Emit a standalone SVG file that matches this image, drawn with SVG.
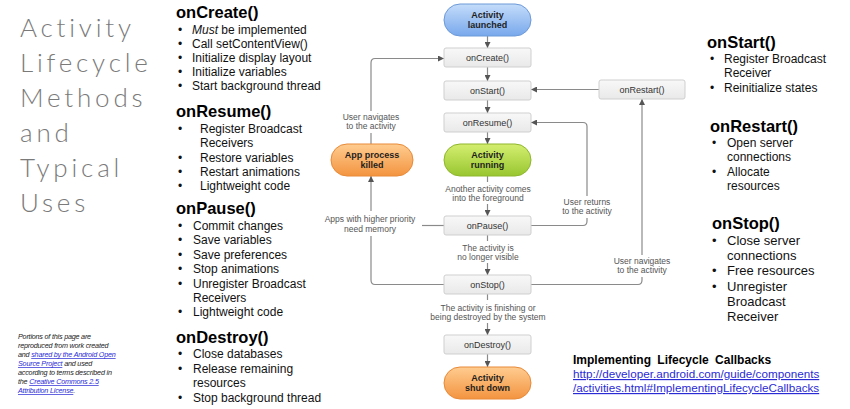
<svg xmlns="http://www.w3.org/2000/svg" width="850" height="409" viewBox="0 0 850 409">
<style>
.title{font-family:Lato,"Open Sans",sans-serif;font-weight:300;font-size:26px;letter-spacing:3.8px;fill:#7a7a7a}
.h{font-family:"Liberation Sans",Arial,sans-serif;font-weight:bold;font-size:16.5px;fill:#000}
.b{font-family:"Liberation Sans",Arial,sans-serif;font-size:12px;fill:#111}
.b13{font-family:"Liberation Sans",Arial,sans-serif;font-size:13px;fill:#111}
.box{fill:url(#gBox);stroke:#cfcfcf;stroke-width:1}
.bt{font-family:"Liberation Sans",Arial,sans-serif;font-size:9px;fill:#333;text-anchor:middle}
.pt{font-family:"Liberation Sans",Arial,sans-serif;font-size:9px;font-weight:bold;fill:#1e1e1e;text-anchor:middle}
.lbl{font-family:"Liberation Sans",Arial,sans-serif;font-size:8.5px;fill:#555;text-anchor:middle}
.ln{fill:none;stroke:#8a8a8a;stroke-width:1.2}
.ar{fill:none;stroke:#8a8a8a;stroke-width:1.2;marker-end:url(#arr)}
.note{font-family:"Liberation Sans",Arial,sans-serif;font-size:7.2px;font-style:italic;fill:#222;letter-spacing:-0.2px}
.lk{fill:#2b2bd6;text-decoration:underline}
.url{font-family:"Liberation Sans",Arial,sans-serif;font-size:11.7px;fill:#2b2bd6;text-decoration:underline}
</style>
<defs>
<linearGradient id="gBox" x1="0" y1="0" x2="0" y2="1"><stop offset="0" stop-color="#f8f8f8"/><stop offset="1" stop-color="#e9e9e9"/></linearGradient>
<linearGradient id="gBlue" x1="0" y1="0" x2="0" y2="1"><stop offset="0" stop-color="#c4dcfa"/><stop offset="1" stop-color="#78a8ec"/></linearGradient>
<linearGradient id="gGreen" x1="0" y1="0" x2="0" y2="1"><stop offset="0" stop-color="#d4ee70"/><stop offset="1" stop-color="#98c630"/></linearGradient>
<linearGradient id="gOrange" x1="0" y1="0" x2="0" y2="1"><stop offset="0" stop-color="#ffcc90"/><stop offset="1" stop-color="#f39440"/></linearGradient>
<marker id="arr" viewBox="0 0 8 8" refX="8" refY="4" markerWidth="6" markerHeight="6" markerUnits="userSpaceOnUse" orient="auto"><path d="M0,0 L8,4 L0,8 Z" fill="#555"/></marker>
</defs>

<g id="title">
<text class="title" x="20" y="37">Activity</text>
<text class="title" x="20" y="72">Lifecycle</text>
<text class="title" x="20" y="107">Methods</text>
<text class="title" x="20" y="142">and</text>
<text class="title" x="20" y="177">Typical</text>
<text class="title" x="20" y="212">Uses</text>
</g>

<g id="onCreate-uses">
<text class="h" x="176" y="18">onCreate()</text>
<text class="b" x="178" y="34">•</text><text class="b" x="192" y="34"><tspan font-style="italic">Must</tspan> be implemented</text>
<text class="b" x="178" y="48">•</text><text class="b" x="192" y="48">Call setContentView()</text>
<text class="b" x="178" y="62">•</text><text class="b" x="192" y="62">Initialize display layout</text>
<text class="b" x="178" y="76">•</text><text class="b" x="192" y="76">Initialize variables</text>
<text class="b" x="178" y="90">•</text><text class="b" x="192" y="90">Start background thread</text>
</g>
<g id="onResume-uses">
<text class="h" x="176" y="117">onResume()</text>
<text class="b" x="178" y="133">•</text><text class="b" x="200" y="133">Register Broadcast</text>
<text class="b" x="200" y="147">Receivers</text>
<text class="b" x="178" y="162">•</text><text class="b" x="200" y="162">Restore variables</text>
<text class="b" x="178" y="176">•</text><text class="b" x="200" y="176">Restart animations</text>
<text class="b" x="178" y="190">•</text><text class="b" x="200" y="190">Lightweight code</text>
</g>
<g id="onPause-uses">
<text class="h" x="176" y="214">onPause()</text>
<text class="b" x="178" y="230">•</text><text class="b" x="193" y="230">Commit changes</text>
<text class="b" x="178" y="244">•</text><text class="b" x="193" y="244">Save variables</text>
<text class="b" x="178" y="259">•</text><text class="b" x="193" y="259">Save preferences</text>
<text class="b" x="178" y="273">•</text><text class="b" x="193" y="273">Stop animations</text>
<text class="b" x="178" y="288">•</text><text class="b" x="193" y="288">Unregister Broadcast</text>
<text class="b" x="193" y="302">Receivers</text>
<text class="b" x="178" y="316">•</text><text class="b" x="193" y="316">Lightweight code</text>
</g>
<g id="onDestroy-uses">
<text class="h" x="176" y="343">onDestroy()</text>
<text class="b" x="178" y="358">•</text><text class="b" x="193" y="358">Close databases</text>
<text class="b" x="178" y="373">•</text><text class="b" x="193" y="373">Release remaining</text>
<text class="b" x="193" y="387">resources</text>
<text class="b" x="178" y="402">•</text><text class="b" x="193" y="402">Stop background thread</text>
</g>

<g id="onStart-uses">
<text class="h" x="707" y="48">onStart()</text>
<text class="b" x="710" y="63">•</text><text class="b" x="724" y="63">Register Broadcast</text>
<text class="b" x="724" y="77">Receiver</text>
<text class="b" x="710" y="92">•</text><text class="b" x="724" y="92">Reinitialize states</text>
</g>
<g id="onRestart-uses">
<text class="h" x="710" y="132">onRestart()</text>
<text class="b" x="712" y="147">•</text><text class="b" x="727" y="147">Open server</text>
<text class="b" x="727" y="161">connections</text>
<text class="b" x="712" y="176">•</text><text class="b" x="727" y="176">Allocate</text>
<text class="b" x="727" y="190">resources</text>
</g>
<g id="onStop-uses">
<text class="h" x="712" y="229">onStop()</text>
<text class="b13" x="712" y="245">•</text><text class="b13" x="727" y="245">Close server</text>
<text class="b13" x="727" y="260">connections</text>
<text class="b13" x="712" y="275">•</text><text class="b13" x="727" y="275">Free resources</text>
<text class="b13" x="712" y="291">•</text><text class="b13" x="727" y="291">Unregister</text>
<text class="b13" x="727" y="306">Broadcast</text>
<text class="b13" x="727" y="321">Receiver</text>
</g>

<g id="note">
<text class="note" x="18" y="339">Portions of this page are</text>
<text class="note" x="18" y="348">reproduced from work created</text>
<text class="note" x="18" y="357">and <tspan class="lk">shared by the Android Open</tspan></text>
<text class="note" x="18" y="366"><tspan class="lk">Source Project</tspan> and used</text>
<text class="note" x="18" y="375">according to terms described in</text>
<text class="note" x="18" y="384">the <tspan class="lk">Creative Commons 2.5</tspan></text>
<text class="note" x="18" y="393"><tspan class="lk">Attribution License</tspan>.</text>
</g>

<g id="reference">
<text class="h" style="font-size:12px" x="573" y="364" word-spacing="3">Implementing Lifecycle Callbacks</text>
<text class="url" x="573" y="378">http://developer.android.com/guide/components</text>
<text class="url" x="573" y="392">/activities.html#ImplementingLifecycleCallbacks</text>
</g>

<g id="connectors">
<line class="ar" x1="487.5" y1="36" x2="487.5" y2="48"/>
<line class="ar" x1="487.5" y1="67" x2="487.5" y2="81"/>
<line class="ar" x1="487.5" y1="100" x2="487.5" y2="113"/>
<line class="ar" x1="487.5" y1="132" x2="487.5" y2="144"/>
<line class="ln" x1="487.5" y1="176" x2="487.5" y2="182"/>
<line class="ar" x1="487.5" y1="204" x2="487.5" y2="216"/>
<line class="ln" x1="487.5" y1="235" x2="487.5" y2="241"/>
<line class="ar" x1="487.5" y1="263" x2="487.5" y2="275"/>
<line class="ln" x1="487.5" y1="294" x2="487.5" y2="300"/>
<line class="ar" x1="487.5" y1="323" x2="487.5" y2="335"/>
<line class="ar" x1="487.5" y1="354" x2="487.5" y2="367"/>
<path class="ln" d="M371,144 V133"/>
<path class="ar" d="M371,111 V63 Q371,58.5 375,58.5 H444"/>
<path class="ln" d="M444,284.5 H375 Q371,284.5 371,280 V236"/>
<path class="ar" d="M371,211 V176"/>
<line class="ln" x1="444" y1="225.5" x2="422" y2="225.5"/>
<line class="ar" x1="599" y1="89.5" x2="531" y2="89.5"/>
<path class="ln" d="M531,284.5 H638 Q642,284.5 642,280 V277"/>
<path class="ar" d="M642,255 V99"/>
<path class="ln" d="M531,225.5 H583 Q587,225.5 587,221 V218"/>
<path class="ar" d="M587,196 V126.5 Q587,122.5 583,122.5 H531"/>
<text class="lbl" x="371" y="120">User navigates</text>
<text class="lbl" x="371" y="129">to the activity</text>
<text class="lbl" x="370" y="222">Apps with higher priority</text>
<text class="lbl" x="370" y="232">need memory</text>
<text class="lbl" x="488" y="192">Another activity comes</text>
<text class="lbl" x="488" y="201">into the foreground</text>
<text class="lbl" x="488" y="251">The activity is</text>
<text class="lbl" x="488" y="260">no longer visible</text>
<text class="lbl" x="488" y="311">The activity is finishing or</text>
<text class="lbl" x="488" y="320">being destroyed by the system</text>
<text class="lbl" x="587" y="205">User returns</text>
<text class="lbl" x="587" y="214">to the activity</text>
<text class="lbl" x="642" y="264">User navigates</text>
<text class="lbl" x="642" y="273">to the activity</text>
</g>

<g id="activity-launched">
<rect x="444" y="4" width="87" height="32" rx="16" fill="url(#gBlue)" stroke="#6e9ad8"/>
<text class="pt" x="487.5" y="18">Activity</text>
<text class="pt" x="487.5" y="28">launched</text>
</g>
<g id="onCreate"><rect class="box" x="444" y="48" width="87" height="19" rx="2"/><text class="bt" x="487.5" y="60.5">onCreate()</text></g>
<g id="onStart"><rect class="box" x="444" y="81" width="87" height="19" rx="2"/><text class="bt" x="487.5" y="93.5">onStart()</text></g>
<g id="onResume"><rect class="box" x="444" y="113" width="87" height="19" rx="2"/><text class="bt" x="487.5" y="125.5">onResume()</text></g>
<g id="activity-running">
<rect x="444" y="144" width="87" height="32" rx="16" fill="url(#gGreen)" stroke="#8fb62e"/>
<text class="pt" x="487.5" y="158">Activity</text>
<text class="pt" x="487.5" y="168">running</text>
</g>
<g id="onPause"><rect class="box" x="444" y="216" width="87" height="19" rx="2"/><text class="bt" x="487.5" y="228.5">onPause()</text></g>
<g id="onStop"><rect class="box" x="444" y="275" width="87" height="19" rx="2"/><text class="bt" x="487.5" y="287.5">onStop()</text></g>
<g id="onDestroy"><rect class="box" x="444" y="335" width="87" height="19" rx="2"/><text class="bt" x="487.5" y="347.5">onDestroy()</text></g>
<g id="activity-shut-down">
<rect x="444" y="367" width="87" height="32" rx="16" fill="url(#gOrange)" stroke="#e88a38"/>
<text class="pt" x="487.5" y="381">Activity</text>
<text class="pt" x="487.5" y="391">shut down</text>
</g>
<g id="app-process-killed">
<rect x="331" y="144" width="82" height="32" rx="16" fill="url(#gOrange)" stroke="#e88a38"/>
<text class="pt" x="372" y="158">App process</text>
<text class="pt" x="372" y="168">killed</text>
</g>
<g id="onRestart"><rect class="box" x="599" y="80" width="86" height="19" rx="2"/><text class="bt" x="642" y="92.5">onRestart()</text></g>
</svg>
